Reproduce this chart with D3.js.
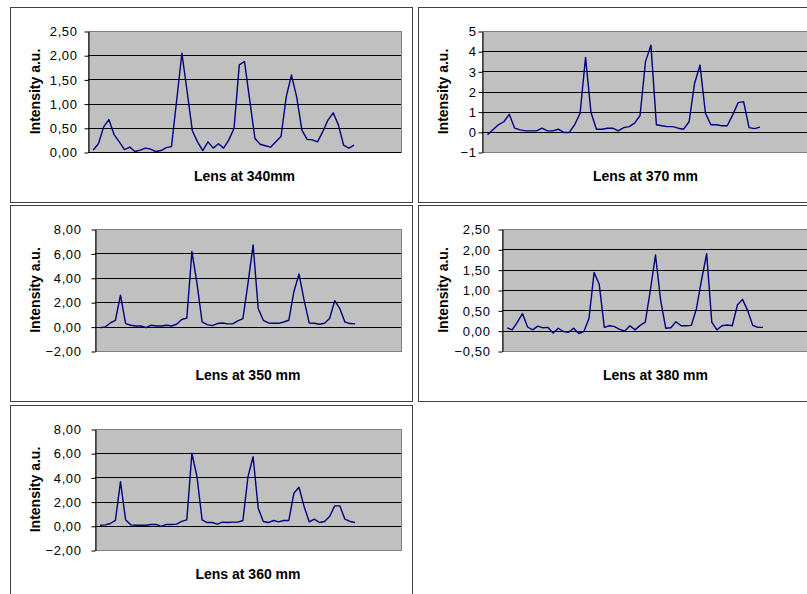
<!DOCTYPE html>
<html>
<head>
<meta charset="utf-8">
<script src="https://cdn.jsdelivr.net/npm/d3@7"></script>
<style>
  body { margin: 0; background: #fff; }
  svg { display: block; font-family: "Liberation Sans", Arial, sans-serif; }
</style>
</head>
<body>
<svg id="chart" width="807" height="594"></svg>
<script>
// intensity readings, 51 samples per lens position
const lens340 = [0.04, 0.17, 0.52, 0.67, 0.36, 0.21, 0.05, 0.10, 0.01, 0.04, 0.08, 0.06, 0.01, 0.03, 0.09, 0.11,
  1.07, 2.04, 1.25, 0.44, 0.21, 0.03, 0.21, 0.08, 0.17, 0.08, 0.25, 0.49, 1.80, 1.87, 1.07, 0.28, 0.16, 0.13,
  0.10, 0.21, 0.32, 1.14, 1.59, 1.14, 0.45, 0.26, 0.25, 0.21, 0.42, 0.66, 0.81, 0.56, 0.14, 0.08, 0.14];
const lens370 = [-0.15, 0.10, 0.35, 0.50, 0.87, 0.18, 0.10, 0.05, 0.05, 0.05, 0.18, 0.05, 0.05, 0.13, -0.03, -0.03,
  0.35, 0.92, 3.69, 0.96, 0.13, 0.13, 0.18, 0.18, 0.05, 0.21, 0.26, 0.43, 0.81, 3.48, 4.30, 0.35, 0.30, 0.26,
  0.26, 0.18, 0.13, 0.50, 2.40, 3.31, 0.92, 0.35, 0.35, 0.30, 0.30, 0.84, 1.45, 1.50, 0.21, 0.16, 0.23];
const lens350 = [-0.08, -0.03, 0.30, 0.52, 2.58, 0.25, 0.11, 0.05, 0.05, -0.08, 0.11, 0.05, 0.05, 0.11, 0.05, 0.19,
  0.58, 0.69, 6.15, 3.54, 0.38, 0.16, 0.08, 0.25, 0.30, 0.22, 0.22, 0.47, 0.66, 3.54, 6.70, 1.48, 0.52, 0.30,
  0.27, 0.27, 0.38, 0.52, 2.86, 4.31, 2.17, 0.30, 0.27, 0.19, 0.27, 0.66, 2.12, 1.48, 0.38, 0.25, 0.22];
const lens380 = [0.07, 0.02, 0.21, 0.42, 0.09, 0.02, 0.11, 0.07, 0.08, -0.06, 0.06, -0.02, -0.04, 0.06, -0.07, -0.02,
  0.30, 1.43, 1.14, 0.08, 0.12, 0.10, 0.03, -0.01, 0.12, 0.02, 0.13, 0.21, 1.00, 1.86, 0.75, 0.06, 0.07, 0.22,
  0.12, 0.12, 0.13, 0.54, 1.25, 1.89, 0.21, 0.02, 0.12, 0.14, 0.12, 0.63, 0.77, 0.50, 0.13, 0.08, 0.08];
const lens360 = [0.05, 0.08, 0.19, 0.44, 3.65, 0.49, 0.08, 0.05, 0.05, 0.05, 0.11, 0.11, -0.05, 0.11, 0.11, 0.14,
  0.36, 0.49, 5.99, 4.07, 0.49, 0.27, 0.27, 0.14, 0.30, 0.27, 0.30, 0.30, 0.44, 4.07, 5.71, 1.46, 0.36, 0.27,
  0.44, 0.33, 0.44, 0.44, 2.69, 3.19, 1.59, 0.33, 0.55, 0.27, 0.36, 0.77, 1.65, 1.65, 0.55, 0.36, 0.27];

const titles = ['Lens at 340mm', 'Lens at 370 mm', 'Lens at 350 mm', 'Lens at 380 mm', 'Lens at 360 mm'];
const yLabel = 'Intensity a.u.';
const yTicks340 = [0, 0.5, 1, 1.5, 2, 2.5];
const yTicks370 = [-1, 0, 1, 2, 3, 4, 5];
const yTicks350 = [-2, 0, 2, 4, 6, 8];
const yTicks380 = [-0.5, 0, 0.5, 1, 1.5, 2, 2.5];
const yTicks360 = [-2, 0, 2, 4, 6, 8];

const svg = d3.select('#chart');

// comma decimal, like the spreadsheet
let fmt2 = (d) => d3.format('.2f')(d).replace('.', ',');
let fmt0 = (d) => d3.format('d')(d);

let panels = [
  { data: lens340, title: titles[0], ticks: yTicks340, fmt: fmt2,
    box: [10, 7, 412, 202], plot: [88, 31, 401, 152], labelX: 35, gap: 11 },
  { data: lens370, title: titles[1], ticks: yTicks370, fmt: fmt0,
    box: [418, 7, 822, 202], plot: [482, 31, 809, 152], labelX: 443, gap: 6 },
  { data: lens350, title: titles[2], ticks: yTicks350, fmt: fmt2,
    box: [10, 205, 412, 401], plot: [95, 229, 401, 351], labelX: 35, gap: 14 },
  { data: lens380, title: titles[3], ticks: yTicks380, fmt: fmt2,
    box: [418, 205, 822, 401], plot: [502, 229, 809, 351], labelX: 443, gap: 12 },
  { data: lens360, title: titles[4], ticks: yTicks360, fmt: fmt2,
    box: [10, 405, 412, 600], plot: [95, 429, 401, 550], labelX: 35, gap: 14 }
];

for (let p of panels) {
  let [bx0, by0, bx1, by1] = p.box;
  let [px0, py0, px1, py1] = p.plot;

  // chart frame
  svg.append('rect')
    .attr('x', bx0 + 0.5).attr('y', by0 + 0.5)
    .attr('width', bx1 - bx0).attr('height', by1 - by0)
    .attr('fill', '#fff')
    .attr('stroke', '#404040');

  let x = d3.scaleLinear().domain([-1, 59]).range([px0, px1]);
  let y = d3.scaleLinear().domain(d3.extent(p.ticks)).range([py1, py0]);

  let g = svg.append('g');

  // plot area
  g.append('rect')
    .attr('x', px0 + 0.5).attr('y', py0 + 0.5)
    .attr('width', px1 - px0).attr('height', py1 - py0)
    .attr('fill', '#c0c0c0')
    .attr('stroke', '#808080');

  // gridlines
  g.selectAll('line.grid')
    .data(p.ticks.slice(0, -1))
    .join('line')
    .attr('x1', px0).attr('x2', px1)
    .attr('y1', (d) => Math.round(y(d)) + 0.5)
    .attr('y2', (d) => Math.round(y(d)) + 0.5)
    .attr('stroke', (d) => d === p.ticks[0] ? '#808080' : '#000')
    .attr('stroke-width', 1);

  // zero line acts as category axis
  g.append('line')
    .attr('x1', px0).attr('x2', px1)
    .attr('y1', Math.round(y(0)) + 0.5).attr('y2', Math.round(y(0)) + 0.5)
    .attr('stroke', '#000');

  // the series
  let valueline = d3.line()
    .x((d, i) => x(i))
    .y((d) => y(d));

  g.append('path')
    .datum(p.data)
    .attr('fill', 'none')
    .attr('stroke', '#000080')
    .attr('stroke-width', 1.4)
    .attr('stroke-linejoin', 'round')
    .attr('d', valueline);

  // y axis
  let yAxis = d3.axisLeft(y)
    .tickValues(p.ticks)
    .tickFormat(p.fmt)
    .tickSizeInner(4)
    .tickSizeOuter(0)
    .tickPadding(p.gap - 4);

  let ax = g.append('g')
    .attr('transform', `translate(${px0 + 0.5},0.5)`)
    .call(yAxis);
  ax.select('.domain').attr('stroke', '#000');
  ax.selectAll('.tick line').attr('stroke', '#000');
  ax.selectAll('.tick text')
    .attr('font-family', '"Liberation Sans", Arial, sans-serif')
    .attr('font-size', 13)
    .attr('letter-spacing', 0.6)
    .attr('fill', '#000');

  // axis title
  g.append('text')
    .attr('transform', `translate(${p.labelX + 5},${(py0 + py1) / 2}) rotate(-90)`)
    .attr('text-anchor', 'middle')
    .attr('font-size', 14)
    .attr('font-weight', 'bold')
    .text(yLabel);

  // chart title under the plot
  g.append('text')
    .attr('x', (px0 + px1) / 2)
    .attr('y', py1 + 29)
    .attr('text-anchor', 'middle')
    .attr('font-size', 14)
    .attr('font-weight', 'bold')
    .text(p.title);
}
</script>
</body>
</html>
